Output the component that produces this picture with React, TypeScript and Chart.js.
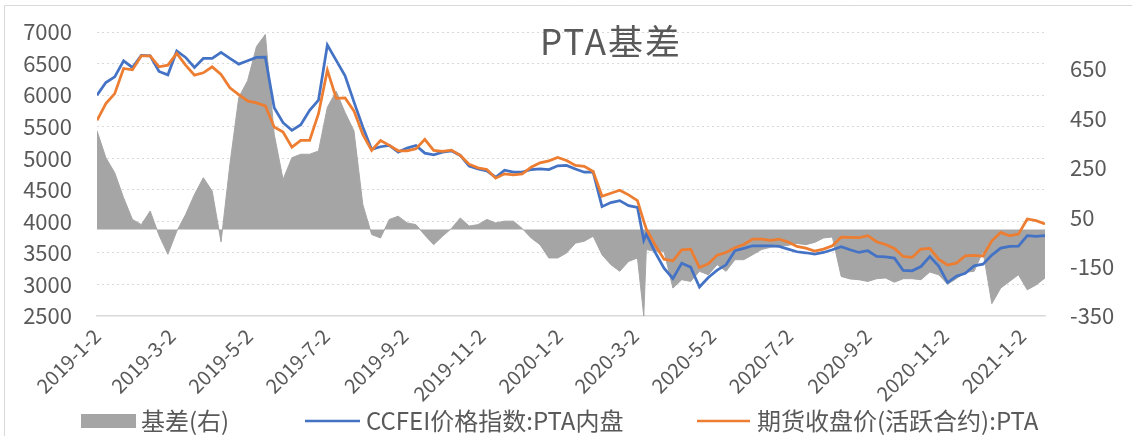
import { useEffect, useRef } from 'react';
import { Chart, registerables } from 'chart.js';

Chart.register(...registerables);

const FONT = '"Noto Sans CJK SC", "Noto Sans", sans-serif';
const TEXT = '#595959';

const dates = [
  '2019-01-02', '2019-01-09', '2019-01-16', '2019-01-23', '2019-01-30', '2019-02-06', '2019-02-13', '2019-02-20',
  '2019-02-27', '2019-03-06', '2019-03-13', '2019-03-20', '2019-03-27', '2019-04-03', '2019-04-10', '2019-04-17',
  '2019-04-24', '2019-05-01', '2019-05-08', '2019-05-15', '2019-05-22', '2019-05-29', '2019-06-05', '2019-06-12',
  '2019-06-19', '2019-06-26', '2019-07-03', '2019-07-10', '2019-07-17', '2019-07-24', '2019-07-31', '2019-08-07',
  '2019-08-14', '2019-08-21', '2019-08-28', '2019-09-04', '2019-09-11', '2019-09-18', '2019-09-25', '2019-10-02',
  '2019-10-09', '2019-10-16', '2019-10-23', '2019-10-30', '2019-11-06', '2019-11-13', '2019-11-20', '2019-11-27',
  '2019-12-04', '2019-12-11', '2019-12-18', '2019-12-25', '2020-01-01', '2020-01-08', '2020-01-15', '2020-01-22',
  '2020-01-29', '2020-02-05', '2020-02-12', '2020-02-19', '2020-02-26', '2020-03-04', '2020-03-09', '2020-03-11',
  '2020-03-18', '2020-03-25', '2020-04-01', '2020-04-08', '2020-04-15', '2020-04-22', '2020-04-29', '2020-05-06',
  '2020-05-13', '2020-05-20', '2020-05-27', '2020-06-03', '2020-06-10', '2020-06-17', '2020-06-24', '2020-07-01',
  '2020-07-08', '2020-07-15', '2020-07-22', '2020-07-29', '2020-08-05', '2020-08-12', '2020-08-19', '2020-08-26',
  '2020-09-02', '2020-09-09', '2020-09-16', '2020-09-23', '2020-09-30', '2020-10-07', '2020-10-14', '2020-10-21',
  '2020-10-28', '2020-11-04', '2020-11-11', '2020-11-18', '2020-11-25', '2020-12-02', '2020-12-09', '2020-12-16',
  '2020-12-23', '2020-12-30', '2021-01-06', '2021-01-13', '2021-01-20',
];

// CCFEI价格指数:PTA内盘
const spot = [
  5998, 6199, 6290, 6544, 6438, 6629, 6623, 6374, 6321, 6700, 6597, 6438, 6581, 6581, 6676, 6581,
  6491, 6544, 6597, 6600, 5800, 5563, 5441, 5532, 5760, 5919, 6793, 6550, 6305, 5892, 5494, 5140,
  5182, 5203, 5097, 5161, 5203, 5081, 5055, 5097, 5118, 5044, 4874, 4832, 4800, 4699, 4811, 4779,
  4779, 4821, 4832, 4821, 4880, 4885, 4830, 4779, 4779, 4233, 4297, 4328, 4249, 4222, 3700, 3798,
  3507, 3258, 3094, 3337, 3274, 2960, 3110, 3226, 3311, 3534, 3571, 3613, 3613, 3613, 3602, 3560,
  3518, 3502, 3480, 3507, 3549, 3597, 3549, 3507, 3534, 3443, 3438, 3417, 3221, 3216, 3284, 3443,
  3290, 3030, 3130, 3178, 3295, 3322, 3465, 3576, 3602, 3608, 3772, 3761, 3772,
];

// 期货收盘价(活跃合约):PTA
const futures = [
  5600, 5866, 6024, 6422, 6400, 6623, 6623, 6448, 6475, 6661, 6475, 6316, 6353, 6448, 6327, 6115,
  6009, 5908, 5876, 5830, 5494, 5415, 5176, 5282, 5282, 5706, 6395, 5950, 5956, 5750, 5378, 5124,
  5280, 5203, 5118, 5118, 5150, 5300, 5124, 5108, 5129, 5044, 4906, 4848, 4821, 4684, 4752, 4737,
  4752, 4858, 4927, 4959, 5012, 4965, 4885, 4870, 4790, 4397, 4445, 4493, 4419, 4328, 4000, 3878,
  3624, 3401, 3375, 3549, 3560, 3268, 3327, 3465, 3507, 3581, 3634, 3719, 3719, 3698, 3719, 3671,
  3602, 3576, 3528, 3560, 3613, 3751, 3745, 3740, 3772, 3677, 3634, 3571, 3443, 3428, 3560, 3571,
  3401, 3306, 3337, 3454, 3459, 3450, 3692, 3825, 3772, 3798, 4037, 4011, 3958,
];

// 基差(右)
const basis = [
  400, 291, 230, 129, 41, 20, 75, -23, -100, -7, 61, 142, 210, 156, -50, 264,
  535, 603, 741, 790, 386, 203, 291, 305, 305, 318, 495, 560, 474, 400, 102, -20,
  -34, 41, 54, 27, 20, -23, -61, -27, 4, 47, 14, 20, 41, 27, 34, 34,
  4, -34, -61, -115, -115, -95, -55, -47, -27, -102, -142, -169, -129, -115, -350, -81,
  -88, -88, -237, -203, -210, -169, -183, -142, -169, -122, -122, -102, -81, -72, -66, -64,
  -56, -61, -52, -34, -30, -190, -200, -203, -210, -199, -196, -213, -199, -199, -203, -172,
  -183, -221, -199, -173, -169, -88, -300, -237, -210, -183, -244, -224, -196,
];

const xTickLabels = [
  '2019-1-2', '2019-3-2', '2019-5-2', '2019-7-2', '2019-9-2', '2019-11-2', '2020-1-2',
  '2020-3-2', '2020-5-2', '2020-7-2', '2020-9-2', '2020-11-2', '2021-1-2',
];
const leftTicks = [2500, 3000, 3500, 4000, 4500, 5000, 5500, 6000, 6500, 7000];
const rightTicks = [-350, -150, 50, 250, 450, 650];
const rightMax = 800;

const seriesNames = ['基差(右)', 'CCFEI价格指数:PTA内盘', '期货收盘价(活跃合约):PTA'];
const titleText = 'PTA基差';

const DAY = 86400000;
function parseDate(s: string) {
  const [y, m, d] = s.split('-').map(Number);
  return Date.UTC(y, m - 1, d);
}
const base = parseDate(dates[0]);
const toDay = (s: string) => Math.round((parseDate(s) - base) / DAY);

export default function App() {
  const ref = useRef<HTMLCanvasElement | null>(null);

  useEffect(() => {
    document.body.style.margin = '0';
    const canvas = ref.current;
    if (!canvas) return;
    const xs = dates.map(toDay);
    const tickMap: Record<number, string> = {};
    xTickLabels.forEach((l) => (tickMap[toDay(l)] = l));

    const framePlugin = {
      id: 'frame',
      beforeDraw(chart: any) {
        const c = chart.ctx;
        c.save();
        c.fillStyle = '#ffffff';
        c.fillRect(0, 0, chart.width, chart.height);
        c.strokeStyle = '#D9D9D9';
        c.lineWidth = 1;
        c.beginPath();
        c.moveTo(4.5, chart.height);
        c.lineTo(4.5, 5.5);
        c.lineTo(chart.width, 5.5);
        c.stroke();
        c.restore();
      },
      afterDraw(chart: any) {
        const c = chart.ctx;
        c.save();
        c.fillStyle = TEXT;
        c.font = `35px ${FONT}`;
        c.textAlign = 'center';
        c.textBaseline = 'middle';
        try {
          (c as any).letterSpacing = '2px';
        } catch (e) {}
        c.fillText(titleText, 611, 42);
        try {
          (c as any).letterSpacing = '0px';
        } catch (e) {}

        const ly = 421;
        c.font = `24px ${FONT}`;
        c.textAlign = 'left';
        c.fillStyle = '#A5A5A5';
        c.fillRect(81, ly - 7, 55, 14);
        c.fillStyle = TEXT;
        c.fillText(seriesNames[0], 141, ly);
        c.strokeStyle = '#4472C4';
        c.lineWidth = 2.5;
        c.beginPath();
        c.moveTo(305, ly);
        c.lineTo(360, ly);
        c.stroke();
        c.fillText(seriesNames[1], 366, ly);
        c.strokeStyle = '#ED7D31';
        c.beginPath();
        c.moveTo(697, ly);
        c.lineTo(750, ly);
        c.stroke();
        c.fillText(seriesNames[2], 757, ly);
        c.restore();
      },
    };

    const chart = new Chart(canvas, {
      type: 'line',
      data: {
        datasets: [
          {
            label: seriesNames[0],
            data: xs.map((x, i) => ({ x, y: basis[i] })),
            yAxisID: 'y2',
            borderColor: '#A5A5A5',
            borderWidth: 1,
            backgroundColor: '#A5A5A5',
            fill: 'origin',
            pointRadius: 0,
            tension: 0,
            order: 3,
          },
          {
            label: seriesNames[1],
            data: xs.map((x, i) => ({ x, y: spot[i] })),
            yAxisID: 'y',
            borderColor: '#4472C4',
            borderWidth: 2.75,
            fill: false,
            pointRadius: 0,
            tension: 0,
            order: 2,
          },
          {
            label: seriesNames[2],
            data: xs.map((x, i) => ({ x, y: futures[i] })),
            yAxisID: 'y',
            borderColor: '#ED7D31',
            borderWidth: 2.75,
            fill: false,
            pointRadius: 0,
            tension: 0,
            order: 1,
          },
        ],
      },
      options: {
        responsive: false,
        animation: false,
        devicePixelRatio: 1,
        layout: { padding: { top: 32, left: 0, right: 0, bottom: 0 } },
        plugins: { legend: { display: false }, title: { display: false }, tooltip: { enabled: false } },
        scales: {
          x: {
            type: 'linear',
            min: xs[0],
            max: xs[xs.length - 1],
            afterBuildTicks: (s: any) => {
              s.ticks = xTickLabels.map((l) => ({ value: toDay(l) }));
            },
            afterFit: (s: any) => {
              s.height = 120;
              s.paddingLeft = 0;
              s.paddingRight = 0;
            },
            ticks: {
              autoSkip: false,
              minRotation: 45,
              maxRotation: 45,
              color: TEXT,
              font: { family: FONT, size: 20 },
              padding: 0,
              callback: (v: any) => tickMap[v] ?? '',
            },
            grid: { display: false },
            border: { display: true, color: '#D9D9D9', width: 1.5 },
          },
          y: {
            type: 'linear',
            position: 'left',
            min: leftTicks[0],
            max: leftTicks[leftTicks.length - 1],
            afterBuildTicks: (s: any) => {
              s.ticks = leftTicks.map((v) => ({ value: v }));
            },
            afterFit: (s: any) => {
              s.width = 97;
              s.paddingTop = 0;
              s.paddingBottom = 0;
            },
            ticks: {
              color: TEXT,
              font: { family: FONT, size: 22 },
              padding: 25,
              callback: (v: any) => String(v),
            },
            grid: {
              drawTicks: false,
              lineWidth: 1,
              color: (ctx: any) => (ctx.tick && ctx.tick.value === leftTicks[0] ? 'rgba(0,0,0,0)' : '#D9D9D9'),
            },
            border: { display: false, dash: [2, 3] },
          },
          y2: {
            type: 'linear',
            position: 'right',
            min: rightTicks[0],
            max: rightMax,
            afterBuildTicks: (s: any) => {
              s.ticks = rightTicks.map((v) => ({ value: v }));
            },
            afterFit: (s: any) => {
              s.width = 87;
              s.paddingTop = 0;
              s.paddingBottom = 0;
            },
            ticks: {
              color: TEXT,
              font: { family: FONT, size: 22 },
              padding: 25,
              callback: (v: any) => String(v),
            },
            grid: { display: false, drawTicks: false },
            border: { display: false },
          },
        },
      },
      plugins: [framePlugin],
    } as any);

    return () => chart.destroy();
  }, []);

  return <canvas ref={ref} width={1132} height={436} style={{ display: 'block' }} />;
}
